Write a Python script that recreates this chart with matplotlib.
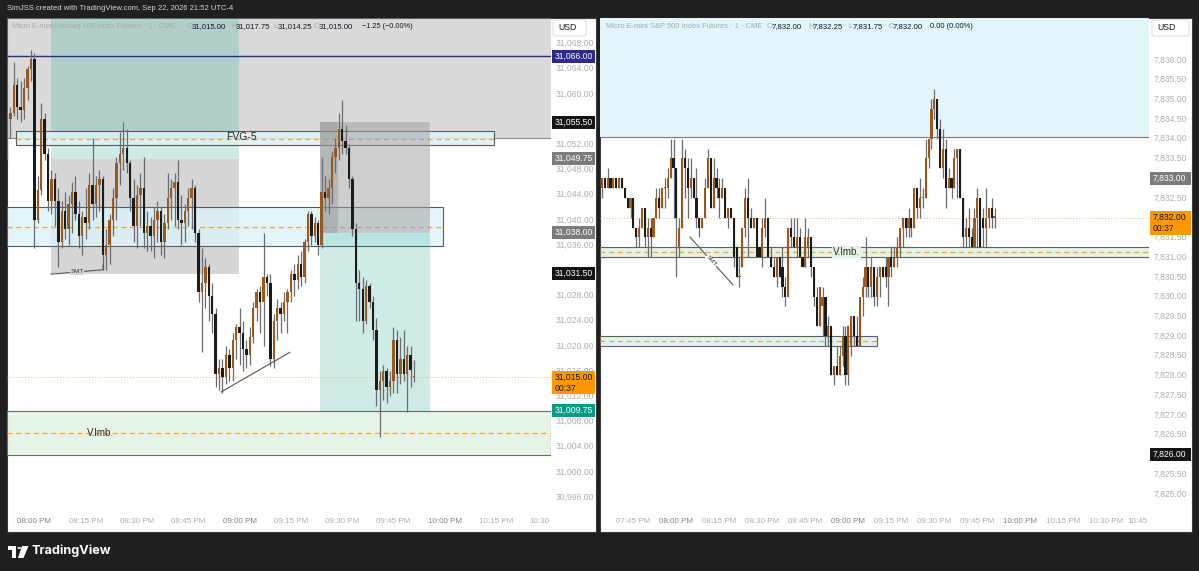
import numpy as np
import matplotlib
matplotlib.use("Agg")
import matplotlib.pyplot as plt
from matplotlib.patches import Rectangle, Polygon, Circle, FancyBboxPatch

plt.rcParams["font.family"] = ["Liberation Sans", "DejaVu Sans"]

W, H = 1199, 571
BG = "#1f1f1f"
UP = "#99591c"
DOWN = "#1b1b1b"
WICK = "#6c6c6c"
TICK_TXT = "#aaadb4"
HOUR_TXT = "#7e8189"
ORANGE = "#ff9800"
FS_AX = 6.2
FS_TIME = 5.8

# ---------------- Micro Nasdaq (left), 1-min bars, x = minutes after 20:00
nq_first_min = -8
nq_open = [31050.0, 31056.0, 31057.0, 31061.5, 31058.0, 31057.5, 31061.0, 31064.0, 31065.5, 31040.0,
           31044.75, 31056.0, 31050.5, 31043.0, 31046.5, 31043.0, 31036.5, 31041.5, 31038.5, 31042.5,
           31044.5, 31041.0, 31037.5, 31040.5, 31039.5, 31045.5, 31042.5, 31045.5, 31046.5, 31034.5,
           31036.0, 31040.0, 31043.5, 31049.0, 31050.5, 31051.5, 31049.0, 31043.5, 31039.0, 31044.0,
           31045.0, 31038.0, 31039.0, 31037.5, 31040.0, 31041.5, 31036.5, 31039.5, 31043.5, 31045.0,
           31046.0, 31040.0, 31039.5, 31041.5, 31043.5, 31045.0, 31038.0, 31028.5, 31030.0, 31032.5,
           31028.0, 31025.0, 31015.5, 31016.5, 31015.0, 31018.5, 31016.5, 31021.0, 31023.0, 31022.0,
           31019.5, 31018.5, 31021.5, 31026.0, 31028.5, 31027.0, 31031.0, 31030.0, 31018.0, 31024.0,
           31026.0, 31025.0, 31027.0, 31028.5, 31031.5, 31030.5, 31033.0, 31031.0, 31036.5, 31041.0,
           31037.5, 31039.5, 31036.0, 31044.5, 31043.5, 31045.0, 31050.0, 31051.5, 31054.5, 31052.5,
           31051.5, 31046.5, 31038.5, 31030.0, 31029.0, 31024.0, 31029.5, 31027.0, 31022.5, 31013.0,
           31014.5, 31016.0, 31013.5, 31014.5, 31021.0, 31015.5, 31018.0, 31015.5, 31018.5, 31015.0]
nq_high = [31057.0, 31058.0, 31065.0, 31062.5, 31062.0, 31062.5, 31064.5, 31067.0, 31066.5, 31047.0,
           31058.5, 31057.0, 31051.5, 31048.0, 31047.5, 31045.0, 31043.0, 31044.5, 31044.0, 31046.0,
           31047.0, 31043.0, 31041.5, 31045.0, 31047.5, 31053.0, 31047.0, 31048.0, 31047.0, 31038.5,
           31041.0, 31045.0, 31050.0, 31054.0, 31055.5, 31054.5, 31049.5, 31046.5, 31045.5, 31047.5,
           31050.0, 31041.5, 31040.5, 31042.0, 31043.0, 31042.0, 31041.0, 31047.5, 31046.5, 31047.5,
           31049.5, 31044.0, 31042.5, 31045.0, 31046.5, 31045.5, 31038.5, 31035.5, 31034.0, 31033.0,
           31030.0, 31026.0, 31018.0, 31018.0, 31020.0, 31019.5, 31022.0, 31023.5, 31026.0, 31024.0,
           31021.0, 31023.0, 31027.0, 31029.0, 31029.5, 31038.0, 31031.5, 31031.5, 31025.0, 31027.5,
           31027.0, 31028.5, 31029.0, 31032.0, 31033.0, 31034.5, 31035.0, 31037.0, 31041.5, 31041.5,
           31040.5, 31040.0, 31050.0, 31047.0, 31046.5, 31051.0, 31053.0, 31057.0, 31059.0, 31055.0,
           31052.0, 31047.0, 31039.5, 31032.0, 31031.0, 31030.5, 31030.0, 31028.0, 31024.5, 31016.0,
           31017.0, 31016.5, 31016.0, 31023.0, 31022.5, 31021.5, 31022.5, 31020.0, 31020.0, 31017.75]
nq_low = [31049.5, 31053.0, 31056.5, 31056.0, 31055.5, 31056.0, 31059.0, 31062.0, 31035.5, 31039.5,
          31044.0, 31049.5, 31041.5, 31041.0, 31039.0, 31032.5, 31035.5, 31037.0, 31036.0, 31038.0,
          31040.0, 31035.5, 31034.5, 31037.0, 31038.5, 31040.0, 31040.5, 31041.5, 31032.0, 31032.0,
          31033.0, 31037.5, 31040.0, 31045.5, 31048.0, 31047.5, 31041.5, 31036.5, 31035.5, 31039.0,
          31035.5, 31035.0, 31035.0, 31034.0, 31036.5, 31034.5, 31034.0, 31038.5, 31040.0, 31039.0,
          31038.5, 31036.0, 31036.5, 31039.0, 31038.5, 31036.5, 31027.0, 31019.0, 31026.0, 31024.0,
          31022.0, 31013.5, 31013.0, 31012.5, 31014.0, 31014.5, 31014.5, 31018.0, 31017.0, 31016.0,
          31016.5, 31017.0, 31020.5, 31024.0, 31022.0, 31020.0, 31028.0, 31016.75, 31016.5, 31021.0,
          31022.0, 31024.0, 31022.0, 31027.0, 31028.0, 31029.0, 31029.5, 31030.0, 31035.0, 31036.0,
          31036.5, 31034.5, 31035.5, 31041.5, 31041.0, 31042.5, 31047.5, 31049.5, 31050.5, 31050.5,
          31045.0, 31037.5, 31024.0, 31024.0, 31022.0, 31023.5, 31026.0, 31021.0, 31010.5, 31005.5,
          31011.5, 31011.0, 31012.0, 31012.5, 31012.5, 31014.0, 31014.5, 31009.5, 31013.5, 31014.25]
nq_close = [31056.0, 31057.0, 31061.5, 31058.0, 31057.5, 31061.0, 31064.0, 31065.5, 31040.0, 31044.75,
            31056.0, 31050.5, 31043.0, 31046.5, 31043.0, 31036.5, 31041.5, 31038.5, 31042.5, 31044.5,
            31041.0, 31037.5, 31040.5, 31039.5, 31045.5, 31042.5, 31045.5, 31046.5, 31034.5, 31036.0,
            31040.0, 31043.5, 31049.0, 31050.5, 31051.5, 31049.0, 31043.5, 31039.0, 31044.0, 31045.0,
            31038.0, 31039.0, 31037.5, 31040.0, 31041.5, 31036.5, 31039.5, 31043.5, 31045.0, 31046.0,
            31040.0, 31039.5, 31041.5, 31043.5, 31045.0, 31038.0, 31028.5, 31030.0, 31032.5, 31028.0,
            31025.0, 31015.5, 31016.5, 31015.0, 31018.5, 31016.5, 31021.0, 31023.0, 31022.0, 31019.5,
            31018.5, 31021.5, 31026.0, 31028.5, 31027.0, 31031.0, 31030.0, 31018.0, 31024.0, 31026.0,
            31025.0, 31027.0, 31028.5, 31031.5, 31030.5, 31033.0, 31031.0, 31036.5, 31041.0, 31037.5,
            31039.5, 31036.0, 31044.5, 31043.5, 31045.0, 31050.0, 31051.5, 31054.5, 31052.5, 31051.5,
            31046.5, 31038.5, 31030.0, 31029.0, 31024.0, 31029.5, 31027.0, 31022.5, 31013.0, 31014.5,
            31016.0, 31013.5, 31014.5, 31021.0, 31015.5, 31018.0, 31015.5, 31018.5, 31016.25, 31015.0]

# ---------------- Micro S&P (right), 1-min bars, x = minutes after 20:00
es_first_min = -26
es_open = [7832.75, 7833.0, 7832.75, 7833.0, 7832.75, 7833.0, 7832.75, 7833.0, 7832.75, 7832.5,
           7832.25, 7832.5, 7831.75, 7831.5, 7831.75, 7832.25, 7831.5, 7831.75, 7831.5, 7832.0,
           7832.5, 7832.25, 7832.75, 7832.75, 7833.0, 7833.5, 7833.25, 7831.25, 7831.75, 7833.5,
           7833.25, 7832.75, 7833.0, 7832.5, 7832.0, 7831.75, 7832.0, 7832.75, 7833.5, 7832.25,
           7833.0, 7832.75, 7832.5, 7832.75, 7832.0, 7832.25, 7832.0, 7831.25, 7830.5, 7830.75,
           7831.75, 7832.5, 7832.0, 7831.75, 7832.0, 7831.25, 7831.0, 7831.75, 7832.0, 7831.0,
           7830.75, 7830.5, 7831.0, 7830.75, 7830.25, 7830.0, 7831.75, 7831.5, 7831.25, 7831.5,
           7831.0, 7830.75, 7831.25, 7831.5, 7830.75, 7830.0, 7829.25, 7829.75, 7830.0, 7829.0,
           7829.25, 7828.0, 7828.25, 7828.0, 7828.5, 7829.0, 7828.0, 7828.75, 7829.5, 7829.0,
           7828.75, 7830.0, 7830.25, 7830.75, 7830.25, 7830.75, 7830.0, 7830.5, 7830.75, 7830.75,
           7830.5, 7831.0, 7830.75, 7831.0, 7831.25, 7831.75, 7832.0, 7831.75, 7832.0, 7831.75,
           7832.75, 7832.25, 7832.5, 7832.5, 7833.5, 7834.0, 7834.75, 7835.0, 7834.25, 7833.25,
           7833.75, 7832.75, 7833.0, 7832.75, 7833.5, 7833.75, 7832.5, 7831.5, 7831.75, 7831.5,
           7831.25, 7832.0, 7832.5, 7832.0, 7831.75, 7832.0, 7832.25, 7832.0]
es_high = [7833.0, 7833.0, 7833.25, 7833.0, 7833.0, 7833.0, 7833.0, 7833.0, 7832.75, 7832.5,
           7832.5, 7832.5, 7831.75, 7832.0, 7832.25, 7832.25, 7832.0, 7832.0, 7832.0, 7832.75,
           7832.75, 7832.75, 7833.0, 7833.25, 7834.0, 7834.0, 7833.25, 7832.0, 7834.0, 7833.75,
           7833.5, 7833.5, 7833.0, 7833.25, 7832.0, 7832.0, 7833.0, 7833.75, 7833.5, 7833.5,
           7833.25, 7833.0, 7833.0, 7832.75, 7832.25, 7832.25, 7832.0, 7831.25, 7831.0, 7831.75,
           7832.75, 7833.0, 7832.25, 7832.0, 7832.0, 7831.25, 7832.0, 7832.5, 7832.0, 7831.25,
           7831.0, 7831.0, 7831.0, 7831.25, 7830.5, 7831.75, 7832.0, 7832.0, 7832.0, 7831.75,
           7831.0, 7832.0, 7831.75, 7831.5, 7830.75, 7830.25, 7830.25, 7830.25, 7830.0, 7829.5,
           7829.25, 7828.25, 7828.75, 7828.75, 7829.25, 7829.25, 7829.25, 7829.5, 7829.5, 7829.5,
           7830.0, 7830.5, 7831.5, 7830.75, 7831.0, 7830.75, 7830.75, 7830.75, 7830.75, 7831.0,
           7831.0, 7831.25, 7831.25, 7831.5, 7831.75, 7832.0, 7832.0, 7832.25, 7832.0, 7832.75,
           7832.75, 7833.0, 7832.75, 7834.0, 7834.0, 7835.0, 7835.25, 7835.0, 7834.5, 7834.25,
           7834.0, 7833.25, 7833.0, 7833.75, 7833.75, 7833.75, 7832.5, 7832.0, 7832.25, 7831.75,
           7832.25, 7832.75, 7832.5, 7832.25, 7832.75, 7832.25, 7832.5, 7832.25]
es_low = [7832.5, 7832.75, 7832.75, 7832.75, 7832.75, 7832.75, 7832.75, 7832.75, 7832.5, 7832.25,
          7832.0, 7831.75, 7831.25, 7831.25, 7831.75, 7831.25, 7831.0, 7831.0, 7831.5, 7832.0,
          7832.0, 7832.25, 7832.25, 7832.5, 7833.0, 7832.0, 7830.5, 7831.0, 7831.75, 7832.5,
          7832.0, 7832.5, 7832.5, 7831.75, 7831.5, 7831.75, 7832.0, 7832.75, 7832.25, 7832.25,
          7832.5, 7832.0, 7832.5, 7832.0, 7831.75, 7832.0, 7830.75, 7830.5, 7830.25, 7830.75,
          7831.5, 7831.0, 7831.75, 7831.75, 7831.0, 7831.0, 7830.75, 7831.5, 7831.0, 7830.75,
          7830.5, 7830.25, 7830.5, 7830.0, 7829.75, 7830.0, 7831.25, 7831.25, 7831.0, 7831.0,
          7830.75, 7830.75, 7831.0, 7830.5, 7829.75, 7829.25, 7829.25, 7829.0, 7828.75, 7828.75,
          7828.0, 7827.75, 7828.0, 7828.0, 7828.25, 7827.75, 7827.75, 7828.5, 7828.75, 7828.75,
          7828.75, 7829.5, 7830.0, 7830.0, 7830.0, 7829.75, 7829.75, 7830.0, 7830.5, 7830.25,
          7829.75, 7830.5, 7830.75, 7830.75, 7831.0, 7831.25, 7831.5, 7831.5, 7831.5, 7831.75,
          7832.0, 7832.0, 7832.25, 7832.5, 7833.25, 7833.75, 7834.5, 7834.0, 7833.25, 7833.0,
          7832.25, 7832.75, 7832.5, 7832.75, 7832.5, 7832.5, 7831.25, 7831.25, 7831.25, 7831.25,
          7831.25, 7831.25, 7831.25, 7831.25, 7831.25, 7831.75, 7831.75, 7831.75]
es_close = [7833.0, 7832.75, 7833.0, 7832.75, 7833.0, 7832.75, 7833.0, 7832.75, 7832.5, 7832.25,
            7832.5, 7831.75, 7831.5, 7831.75, 7832.25, 7831.5, 7831.75, 7831.5, 7832.0, 7832.5,
            7832.25, 7832.75, 7832.75, 7833.0, 7833.5, 7833.25, 7832.0, 7831.75, 7833.5, 7833.25,
            7832.75, 7833.0, 7832.5, 7832.0, 7831.75, 7832.0, 7832.75, 7833.5, 7832.25, 7833.0,
            7832.75, 7832.5, 7832.75, 7832.0, 7832.25, 7832.0, 7831.0, 7830.5, 7830.5, 7831.75,
            7832.5, 7832.0, 7831.75, 7832.0, 7831.0, 7831.0, 7831.75, 7832.0, 7831.0, 7830.75,
            7830.5, 7831.0, 7830.5, 7830.25, 7830.0, 7831.75, 7831.5, 7831.25, 7831.5, 7831.0,
            7830.75, 7831.5, 7831.5, 7830.75, 7830.0, 7829.25, 7830.25, 7830.0, 7829.0, 7829.25,
            7828.0, 7828.25, 7828.0, 7828.5, 7829.0, 7828.0, 7829.25, 7829.5, 7829.0, 7828.75,
            7830.0, 7830.25, 7830.75, 7830.25, 7830.75, 7830.0, 7830.5, 7830.75, 7830.5, 7830.5,
            7831.0, 7830.75, 7831.0, 7831.25, 7831.75, 7832.0, 7831.75, 7832.0, 7831.75, 7832.75,
            7832.25, 7832.5, 7832.5, 7833.5, 7834.0, 7834.75, 7835.0, 7834.25, 7833.25, 7833.75,
            7832.75, 7833.0, 7832.75, 7833.5, 7833.75, 7832.5, 7831.5, 7831.75, 7831.5, 7831.25,
            7832.0, 7832.5, 7831.25, 7831.75, 7832.0, 7832.25, 7832.0, 7832.0]

# ---------------- drawings / levels
nq_hi_line = 31066.0
nq_gray_top = 31053.0
nq_pos1_min = (4.85, 59.8)
nq_pos1_target, nq_pos1_stop = 31049.75, 31031.5
nq_pos2_min = (83.5, 115.7)
nq_pos2_dark_end = 88.8
nq_pos2_top, nq_pos2_entry, nq_pos2_target = 31055.5, 31038.0, 31009.75
nq_fvg_min = (-5.4, 134.4)
nq_fvg = (31051.9, 31054.1, 31052.9)
nq_box2_end = 119.5
nq_box2 = (31035.8, 31042.0, 31038.9)
nq_vimb = (31002.75, 31009.75, 31006.25)
nq_last = 31015.0

es_zone_top = 7834.05
es_vimb = (7831.0, 7831.25, 7831.13)
es_box_end = 69.9
es_box = (7828.75, 7829.0, 7828.87)
es_last = 7832.0

nq_tick_min = [0, 15, 30, 45, 60, 75, 90, 105, 120, 135, 150]
nq_tick_lbl = ["08:00 PM", "08:15 PM", "08:30 PM", "08:45 PM", "09:00 PM", "09:15 PM",
               "09:30 PM", "09:45 PM", "10:00 PM", "10:15 PM", "10:30"]
es_tick_min = [-15, 0, 15, 30, 45, 60, 75, 90, 105, 120, 135, 150, 165]
es_tick_lbl = ["07:45 PM", "08:00 PM", "08:15 PM", "08:30 PM", "08:45 PM", "09:00 PM", "09:15 PM",
               "09:30 PM", "09:45 PM", "10:00 PM", "10:15 PM", "10:30 PM", "10:45"]

nq_legend = [("O", "31,015.00"), ("H", "31,017.75"), ("L", "31,014.25"), ("C", "31,015.00")]
nq_change = "\u22121.25 (\u22120.00%)"
es_legend = [("O", "7,832.00"), ("H", "7,832.25"), ("L", "7,831.75"), ("C", "7,832.00")]
es_change = "0.00 (0.00%)"


def fx(x):
    return x / W


def fy(y):
    return 1 - y / H


def ftext(x, y, s, **kw):
    kw.setdefault("va", "center")
    return fig.text(fx(x), fy(y), s, **kw)


def fit_text(x0, x1, y, s, **kw):
    # size the text so it spans x0..x1 pixels
    t = ftext(x0, y, s, ha="left", **kw)
    w = t.get_window_extent(fig.canvas.get_renderer()).width
    t.set_fontsize(t.get_fontsize() * (x1 - x0) / w)
    return t


def candles(ax, first, o, h, l, c, width, min_h):
    o, h, l, c = map(np.asarray, (o, h, l, c))
    t = np.arange(first, first + len(o))
    ax.vlines(t, l, h, color=WICK, lw=0.9, zorder=5)
    cols = np.where(c >= o, UP, DOWN)
    ax.bar(t, np.maximum(np.abs(c - o), min_h), width, np.minimum(o, c),
           color=cols, linewidth=0, zorder=6)


def box(ax, x0, x1, y0, y1, fc, alpha=1.0, ec="none", lw=0.8, z=2):
    ax.add_patch(Rectangle((x0, y0), x1 - x0, y1 - y0, fc=fc, alpha=alpha, ec="none", zorder=z))
    if ec != "none":
        ax.add_patch(Rectangle((x0, y0), x1 - x0, y1 - y0, fc="none", ec=ec, lw=lw, zorder=z + 0.1))


def price_axis(ax, ticks, axw, ppu, badge_w):
    tr = ax.get_yaxis_transform()
    for p in ticks:
        ax.text(1 + 5 / axw, p, f"{p:,.2f}", transform=tr, ha="left", va="center",
                fontsize=FS_AX, color=TICK_TXT, clip_on=False, zorder=8)

    def badge(p, fc, tc="white", sub=None):
        top = 6.5 / ppu
        bot = (17 if sub else 6.5) / ppu
        ax.add_patch(Rectangle((1 + 1 / axw, p - bot), badge_w / axw, top + bot, fc=fc, ec="none",
                               transform=tr, clip_on=False, zorder=20))
        ax.text(1 + 4 / axw, p, f"{p:,.2f}", transform=tr, ha="left", va="center",
                fontsize=FS_AX, color=tc, clip_on=False, zorder=21)
        if sub:
            ax.text(1 + 4 / axw, p - 11 / ppu, sub, transform=tr, ha="left", va="center",
                    fontsize=FS_AX, color=tc, clip_on=False, zorder=21)
    return badge


def time_axis(ax, mins, labels, xmax):
    tr = ax.get_xaxis_transform()
    for m, s in zip(mins, labels):
        hour = s.startswith(("08:00", "09:00", "10:00"))
        last = m == mins[-1]
        ax.text(xmax - 0.4 if last else m, -0.02, s, transform=tr, ha="right" if last else "center",
                va="center", fontsize=FS_TIME, color=HOUR_TXT if hour else TICK_TXT, clip_on=False)


fig = plt.figure(figsize=(W / 100, H / 100), dpi=100, facecolor=BG)

# panel backgrounds
for x0, x1 in [(7, 596), (600, 1192)]:
    fig.patches.append(Rectangle((fx(x0), fy(532)), fx(x1) - fx(x0), fy(18) - fy(532),
                                 transform=fig.transFigure, fc="white", ec="#3c3c3c", lw=0.8, zorder=-1))

# ================= left panel
axL = fig.add_axes([fx(7), fy(512), fx(551) - fx(7), fy(18) - fy(512)])
axL.axis("off")
nq_x = (-8.0, 151.05)
axL.set_xlim(*nq_x)
axL.set_ylim(30993.65, 31072.06)
top = 31072.06

box(axL, nq_x[0], nq_x[1], nq_gray_top, top, "#9e9e9e", 0.38, z=1)
axL.hlines(nq_gray_top, nq_x[0], nq_x[1], color="#8a8a8a", lw=0.8, zorder=1.5)
box(axL, nq_pos1_min[0], nq_pos1_min[1], nq_pos1_target, top, "#26a69a", 0.22, z=1.2)
box(axL, nq_pos1_min[0], nq_pos1_min[1], nq_pos1_stop, nq_pos1_target, "#9e9e9e", 0.42, z=1.2)
box(axL, nq_fvg_min[0], nq_fvg_min[1], nq_fvg[0], nq_fvg[1], "#def3f9", 0.85, ec="#5a5a5a", z=2)
axL.hlines(nq_fvg[2], nq_fvg_min[0], nq_fvg_min[1], color="#f0a43a", lw=0.9, ls=(0, (4, 3)), zorder=2.3)
axL.text((nq_fvg_min[0] + nq_fvg_min[1]) / 2 - 4, nq_fvg[2] + 0.2, "FVG-5", fontsize=7.5,
         color="#2a2a2a", ha="center", va="center", zorder=3)
box(axL, nq_x[0], nq_box2_end, nq_box2[0], nq_box2[1], "#def3f9", 0.8, ec="#5a5a5a", z=2)
axL.hlines(nq_box2[2], nq_x[0], nq_box2_end, color="#f0a43a", lw=0.9, ls=(0, (4, 3)), zorder=2.3)
box(axL, nq_pos2_min[0], nq_pos2_min[1], nq_pos2_entry, nq_pos2_top, "#9e9e9e", 0.5, z=2.5)
box(axL, nq_pos2_min[0], nq_pos2_dark_end, nq_pos2_entry, nq_pos2_top, "#8a8a8a", 0.35, z=2.6)
box(axL, nq_pos2_min[0], nq_pos2_min[1], nq_pos2_target, nq_pos2_entry, "#26a69a", 0.22, z=2.5)
box(axL, nq_x[0], nq_x[1], nq_vimb[0], nq_vimb[1], "#e6f4e7", 1.0, ec="#6a6a6a", z=2)
axL.hlines(nq_vimb[2], nq_x[0], nq_x[1], color="#f0a43a", lw=0.9, ls=(0, (4, 3)), zorder=2.3)
axL.text(19.2, nq_vimb[2], "V.Imb.", fontsize=7, color="#2a2a2a", ha="center", va="center", zorder=3)
axL.hlines(nq_hi_line, nq_x[0], nq_x[1], color="#2b2f7a", lw=1.0, zorder=3)
axL.hlines(nq_last, nq_x[0], nq_x[1], color="#f4b06a", lw=0.7, ls=(0, (1, 2)), zorder=3)
# SMT and trend marks
axL.plot([4.85, 20.1, 20.1], [31031.4, 31032.1, 31032.9], color="#555555", lw=0.8, zorder=7)
axL.text(12.5, 31031.75, "SMT", fontsize=4.5, color="#333333", ha="center", va="center", zorder=7.5,
         bbox=dict(boxstyle="square,pad=0.05", fc="#d6d6d6", ec="none"))
axL.plot([54.6, 74.7], [31012.7, 31019.0], color="#555555", lw=0.8, zorder=7)

candles(axL, nq_first_min, nq_open, nq_high, nq_low, nq_close, 0.7, 0.17)

badgeL = price_axis(axL, np.arange(30996, 31069, 4), 544, 6.3, 43)
badgeL(nq_hi_line, "#2e2a8a")
badgeL(nq_pos2_top, "#151515")
badgeL(nq_pos1_target, "#7b7b7b")
badgeL(nq_pos2_entry, "#7b7b7b")
badgeL(nq_pos1_stop, "#151515")
badgeL(nq_pos2_target, "#0b9a83")
badgeL(nq_last, ORANGE, "#111111", "00:37")
time_axis(axL, nq_tick_min, nq_tick_lbl, nq_x[1])

# ================= right panel
axR = fig.add_axes([fx(600), fy(512), fx(1149) - fx(600), fy(18) - fy(512)])
axR.axis("off")
es_x = (-26.66, 164.9)
axR.set_xlim(*es_x)
axR.set_ylim(7824.54, 7837.06)

box(axR, es_x[0], es_x[1], es_zone_top, 7837.06, "#e2f5fb", 1.0, z=1)
axR.hlines(es_zone_top, es_x[0], es_x[1], color="#7a7a7a", lw=0.8, zorder=1.5)
box(axR, es_x[0], es_x[1], es_vimb[0], es_vimb[1], "#e6f4e7", 1.0, ec="#5f5f5f", z=2)
axR.hlines(es_vimb[2], es_x[0], es_x[1], color="#f0a43a", lw=0.9, ls=(0, (4, 3)), zorder=2.3)
axR.text(59.2, es_vimb[2], "V.Imb.", fontsize=7, color="#2a2a2a", ha="center", va="center", zorder=7,
         bbox=dict(boxstyle="square,pad=0.1", fc="#e6f4e7", ec="none"))
box(axR, es_x[0], es_box_end, es_box[0], es_box[1], "#def3f9", 1.0, ec="#5f5f5f", z=2)
axR.hlines(es_box[2], es_x[0], es_box_end, color="#f0a43a", lw=0.9, ls=(0, (4, 3)), zorder=2.3)
axR.hlines(es_last, es_x[0], es_x[1], color="#f4b06a", lw=0.7, ls=(0, (1, 2)), zorder=3)
axR.plot([4.7, 19.7], [7831.51, 7830.30], color="#555555", lw=0.8, zorder=7)
axR.text(12.2, 7830.9, "SMT", fontsize=4.5, rotation=-48, color="#333333", ha="center", va="center",
         zorder=7.5, bbox=dict(boxstyle="square,pad=0.05", fc="white", ec="none"))

candles(axR, es_first_min, es_open, es_high, es_low, es_close, 0.75, 0.03)

badgeR = price_axis(axR, np.arange(7825.0, 7836.01, 0.5), 549, 39.45, 41)
badgeR(7833.0, "#7b7b7b")
badgeR(7826.0, "#151515")
badgeR(es_last, ORANGE, "#111111", "00:37")
time_axis(axR, es_tick_min, es_tick_lbl, es_x[1])

# ================= legends, header, USD boxes, logo
fit_text(7, 235, 9, "SimJSS created with TradingView.com, Sep 22, 2026 21:52 UTC-4", fontsize=6, color="#d8d8d8")

TITLE = "#a3a9ae"
VAL = "#131722"
FS_LEG = 5.6
fit_text(12, 178, 26.5, "Micro E-mini Nasdaq-100 Index Futures \u00b7 1 \u00b7 CME", fontsize=6, color=TITLE)
for (xk, xv), (k, v) in zip([(186.7, 191.7), (231, 236), (273.5, 278), (313.5, 318.5)], nq_legend):
    ftext(xk, 26.5, k, fontsize=FS_LEG, color=TITLE)
    ftext(xv, 26.5, v, fontsize=FS_LEG, color=VAL)
fit_text(362, 412, 26.5, nq_change, fontsize=FS_LEG, color=VAL)

fit_text(606, 763, 26.5, "Micro E-mini S&P 500 Index Futures \u00b7 1 \u00b7 CME", fontsize=6, color=TITLE)
for (xk, xv), (k, v) in zip([(767, 772), (808, 813), (848.5, 852.5), (888.5, 893)], es_legend):
    ftext(xk, 26.5, k, fontsize=FS_LEG, color=TITLE)
    ftext(xv, 26.5, v, fontsize=FS_LEG, color=VAL)
fit_text(930, 972, 26.5, es_change, fontsize=FS_LEG, color=VAL)

for x0, x1 in [(553, 586), (1152, 1189)]:
    fig.patches.append(FancyBboxPatch((fx(x0), fy(36)), fx(x1) - fx(x0), fy(20) - fy(36),
                                      boxstyle="round,pad=0,rounding_size=0.003", transform=fig.transFigure,
                                      fc="white", ec="#e0e0e0", lw=0.8, zorder=5))
    ftext(x0 + 5, 28, "USD", fontsize=6.3, color=VAL, zorder=6)

# TradingView logo
logo_t = Polygon([(fx(8), fy(546)), (fx(16), fy(546)), (fx(16), fy(558)), (fx(12), fy(558)),
                  (fx(12), fy(550)), (fx(8), fy(550))], closed=True, transform=fig.transFigure,
                 fc="white", ec="none")
logo_v = Polygon([(fx(22), fy(546)), (fx(28.5), fy(546)), (fx(23.5), fy(558)), (fx(18), fy(558))],
                 closed=True, transform=fig.transFigure, fc="white", ec="none")
logo_c = Circle((fx(19.2), fy(548)), 1.9 / W, transform=fig.transFigure, fc="white", ec="none")
for p in (logo_t, logo_v, logo_c):
    fig.patches.append(p)
fit_text(31, 111, 551, "TradingView", fontsize=9.5, color="white", fontweight="bold",
         family=["Inter", "Roboto", "DejaVu Sans"])

fig.savefig("out.png", dpi=100, facecolor=BG)
